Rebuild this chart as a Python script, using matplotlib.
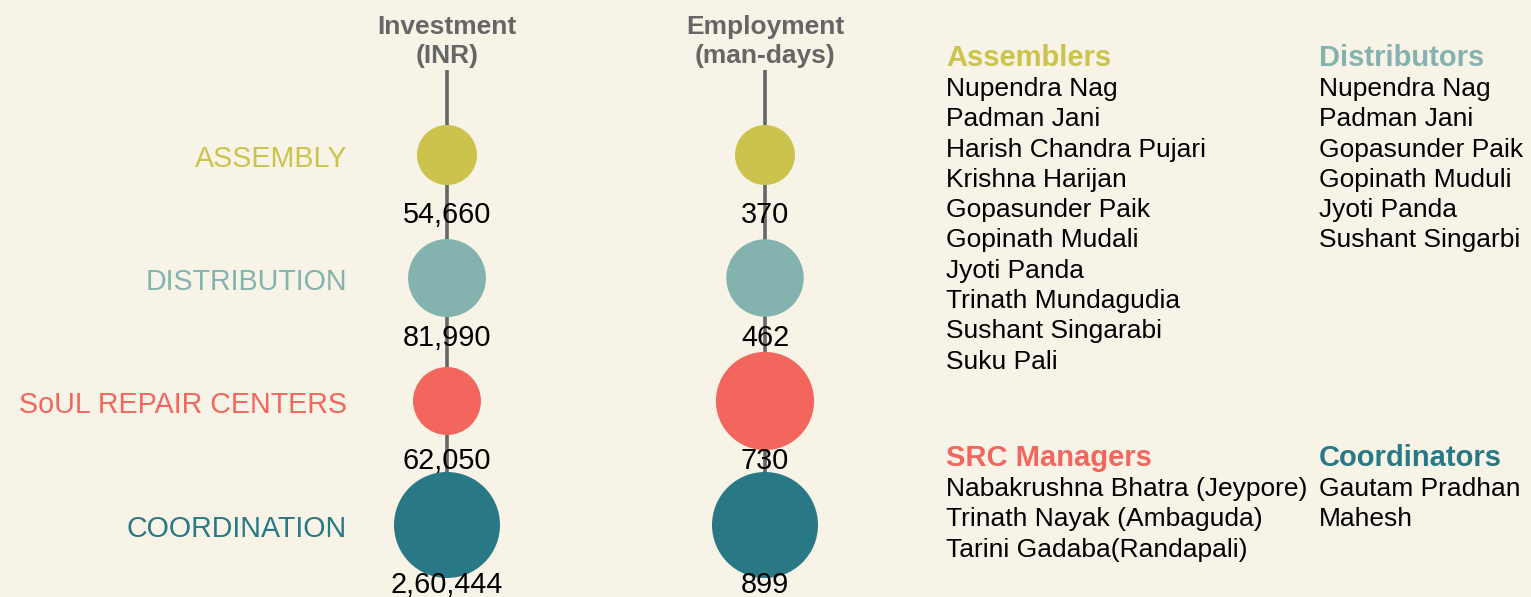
# SoUL activity summary: investment / employment bubbles with team lists

import numpy as np
import matplotlib.pyplot as plt

plt.rcParams['font.family'] = ['Liberation Sans', 'DejaVu Sans']

activities = ["ASSEMBLY", "DISTRIBUTION", "SoUL REPAIR CENTERS", "COORDINATION"]
activity_colors = ["#cbc34b", "#84b3af", "#f2665e", "#297885"]

investment = [54660, 81990, 62050, 260444]   # INR
employment = [370, 462, 730, 899]            # man-days

column_titles = [("Investment", "(INR)"), ("Employment", "(man-days)")]

assemblers = ["Nupendra Nag", "Padman Jani", "Harish Chandra Pujari", "Krishna Harijan",
              "Gopasunder Paik", "Gopinath Mudali", "Jyoti Panda", "Trinath Mundagudia",
              "Sushant Singarabi", "Suku Pali"]
distributors = ["Nupendra Nag", "Padman Jani", "Gopasunder Paik", "Gopinath Muduli",
                "Jyoti Panda", "Sushant Singarbi"]
src_managers = ["Nabakrushna Bhatra (Jeypore)", "Trinath Nayak (Ambaguda)",
                "Tarini Gadaba(Randapali)"]
coordinators = ["Gautam Pradhan", "Mahesh"]

BG = "#f7f3e6"
GREY = "#666666"
R_MIN, R_MAX = 30, 53   # bubble radius range, px


def indian_format(n):
    s = str(int(n))
    if len(s) <= 3:
        return s
    head, tail = s[:-3], s[-3:]
    parts = []
    while len(head) > 2:
        parts.insert(0, head[-2:])
        head = head[:-2]
    if head:
        parts.insert(0, head)
    return ",".join(parts) + "," + tail


def radius_scale(values):
    v = np.log(np.asarray(values, dtype=float))
    t = (v - v.min()) / (v.max() - v.min())
    return R_MIN + (R_MAX - R_MIN) * t ** 0.7


fig = plt.figure(figsize=(15.31, 5.97), dpi=100, facecolor=BG)
ax = fig.add_axes([0, 0, 1, 1])
ax.set_facecolor(BG)
ax.set_xlim(0, 1531)
ax.set_ylim(597, 0)
ax.axis("off")

col_x = [447, 765]
row_y = [155, 278, 401, 525]

# row labels
for label, color, y in zip(activities, activity_colors, row_y):
    ax.text(347, y + 12, label, color=color, fontsize=20.6,
            ha="right", va="baseline")

for cx, (t1, t2), values in zip(col_x, column_titles, [investment, employment]):
    ax.text(cx, 34, t1, color=GREY, fontsize=19, fontweight="bold",
            ha="center", va="baseline")
    ax.text(cx, 63, t2, color=GREY, fontsize=19, fontweight="bold",
            ha="center", va="baseline")
    ax.plot([cx, cx], [70, row_y[-1]], color=GREY, lw=2.6, zorder=1,
            solid_capstyle="butt")
    radii = radius_scale(values)
    sizes = (2 * radii * 0.72) ** 2
    ax.scatter([cx] * len(values), row_y, s=sizes, c=activity_colors,
               linewidths=0, zorder=2)
    for y, v in zip(row_y, values):
        ax.text(cx, y + 68, indian_format(v), color="black", fontsize=20.8,
                ha="center", va="baseline", zorder=3)


def name_list(x, y, title, color, names):
    ax.text(x, y, title, color=color, fontsize=21, fontweight="bold",
            ha="left", va="baseline")
    for i, n in enumerate(names):
        ax.text(x, y + 30 + i * 30.3, n, color="black", fontsize=19,
                ha="left", va="baseline")


name_list(946, 66, "Assemblers", activity_colors[0], assemblers)
name_list(1319, 66, "Distributors", activity_colors[1], distributors)
name_list(946, 466, "SRC Managers", activity_colors[2], src_managers)
name_list(1319, 466, "Coordinators", activity_colors[3], coordinators)

fig.savefig("out.png", dpi=100, facecolor=BG)
